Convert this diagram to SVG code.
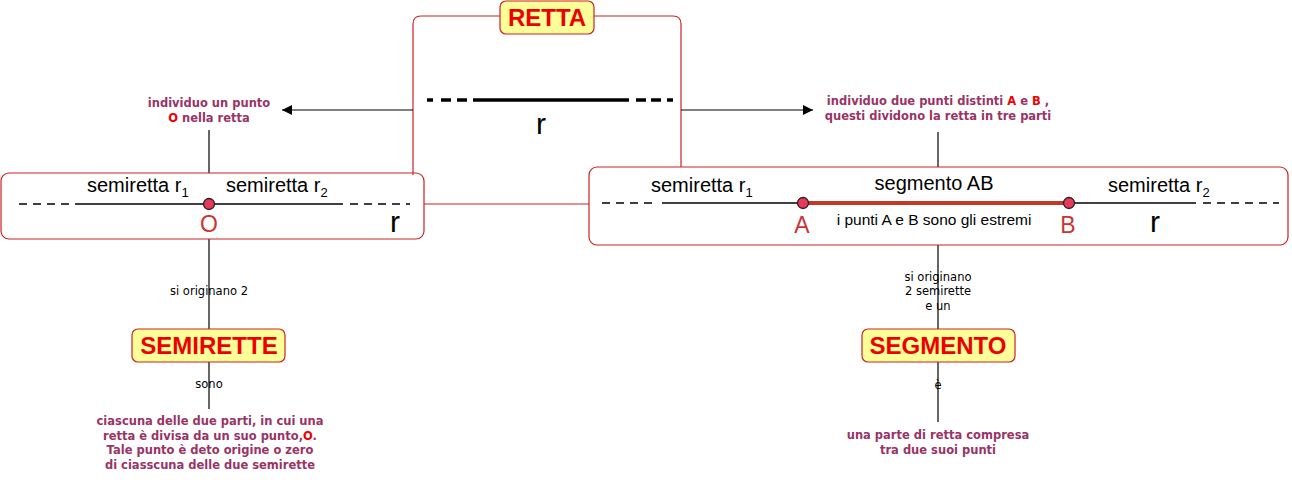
<svg xmlns="http://www.w3.org/2000/svg" width="1292" height="480" viewBox="0 0 1292 480">
<style>
.frame{fill:none;stroke:#cc2222;stroke-width:1.2}
.con{fill:none;stroke:#000;stroke-width:1.2}
.key{fill:#ffff99;stroke:#cc2222;stroke-width:1.2}
.keyt{font-family:"Liberation Sans",Arial,sans-serif;font-weight:bold;font-size:24px;fill:#ee0000;text-anchor:middle}
.desc{font-family:"DejaVu Sans",Verdana,sans-serif;font-weight:bold;font-size:11.5px;fill:#993366;text-anchor:middle}
.red{fill:#ee0000}
.lab{font-family:"DejaVu Sans",Verdana,sans-serif;font-size:11.5px;fill:#000;text-anchor:middle}
.sr{font-family:"Liberation Sans",Arial,sans-serif;font-size:20px;fill:#000}
.sub{font-size:13px}
.pt{font-family:"Liberation Sans",Arial,sans-serif;font-size:23px;fill:#cc3333;text-anchor:middle}
.big{font-family:"Liberation Sans",Arial,sans-serif;font-size:30px;fill:#000;text-anchor:middle}
.dash{stroke:#000;stroke-width:1.6;stroke-dasharray:8 6}
.solid{stroke:#000;stroke-width:1.6}
.dot{fill:#e8395a;stroke:#222;stroke-width:1.3}
</style>
<defs>
<marker id="ah" viewBox="0 0 10 10" refX="10" refY="5" markerWidth="10" markerHeight="10" markerUnits="userSpaceOnUse" orient="auto">
<path d="M0,0 L10,5 L0,10 z" fill="#000"/>
</marker>
</defs>

<g id="connectors">
<path class="frame" d="M413,175 L413,24 Q413,16 421,16 L673,16 Q681,16 681,24 L681,167"/>
<line class="frame" x1="424" y1="204" x2="589" y2="204"/>
<line class="con" x1="413" y1="110" x2="282" y2="110" marker-end="url(#ah)"/>
<line class="con" x1="681" y1="110" x2="813" y2="110" marker-end="url(#ah)"/>
<line class="con" x1="209" y1="130" x2="209" y2="173"/>
<line class="con" x1="938" y1="132" x2="938" y2="167"/>
<line class="con" x1="209" y1="239" x2="209" y2="329"/>
<line class="con" x1="209" y1="362" x2="209" y2="409"/>
<line class="con" x1="938" y1="245" x2="938" y2="329"/>
<line class="con" x1="938" y1="362" x2="938" y2="422"/>
<text class="lab" x="209" y="295">si originano 2</text>
<text class="lab" x="209" y="388">sono</text>
<text class="lab" x="938" y="281">si originano</text>
<text class="lab" x="938" y="295">2 semirette</text>
<text class="lab" x="938" y="310">e un</text>
<text class="lab" x="938" y="389">è</text>
</g>

<g id="retta">
<line x1="427" y1="100" x2="472" y2="100" stroke="#000" stroke-width="3.5" stroke-dasharray="6 8 10 6 10 6"/>
<line x1="473" y1="100" x2="629" y2="100" stroke="#000" stroke-width="3.5"/>
<line x1="636" y1="100" x2="673" y2="100" stroke="#000" stroke-width="3.5" stroke-dasharray="10 5 10 6 6 6"/>
<text class="big" x="541" y="134">r</text>
<rect class="key" x="500" y="1" width="94" height="33" rx="6"/>
<text class="keyt" x="547" y="26">RETTA</text>
</g>

<g id="desc-left">
<text class="desc" x="209" y="107">individuo un punto</text>
<text class="desc" x="209" y="122"><tspan class="red">O</tspan> nella retta</text>
</g>

<g id="desc-right">
<text class="desc" x="938" y="105">individuo due punti distinti <tspan class="red">A</tspan> e <tspan class="red">B</tspan> ,</text>
<text class="desc" x="938" y="120">questi dividono la retta in tre parti</text>
</g>

<g id="box-left">
<rect class="frame" x="1" y="173" width="423" height="66" rx="8"/>
<line class="dash" x1="19" y1="204" x2="73" y2="204"/>
<line class="solid" x1="75" y1="204" x2="343" y2="204"/>
<line class="dash" x1="350" y1="204" x2="410" y2="204"/>
<text class="sr" x="87" y="192">semiretta r<tspan class="sub" dy="5">1</tspan></text>
<text class="sr" x="226" y="192">semiretta r<tspan class="sub" dy="5">2</tspan></text>
<circle class="dot" cx="209" cy="204" r="5.5"/>
<text class="pt" x="209" y="232">O</text>
<text class="big" x="395" y="232">r</text>
</g>

<g id="box-right">
<rect class="frame" x="589" y="167" width="699" height="78" rx="8"/>
<line class="dash" x1="602" y1="203" x2="658" y2="203"/>
<line class="solid" x1="662" y1="203" x2="1196" y2="203"/>
<line class="dash" x1="1203" y1="203" x2="1279" y2="203"/>
<line x1="803" y1="203" x2="1069" y2="203" stroke="#c0392b" stroke-width="4"/>
<circle class="dot" cx="803" cy="203" r="5.5"/>
<circle class="dot" cx="1069" cy="203" r="5.5"/>
<text class="sr" x="651" y="192">semiretta r<tspan class="sub" dy="5">1</tspan></text>
<text class="sr" x="934" y="190" text-anchor="middle">segmento AB</text>
<text class="sr" x="1108" y="192">semiretta r<tspan class="sub" dy="5">2</tspan></text>
<text class="pt" x="802" y="233">A</text>
<text class="pt" x="1068" y="233">B</text>
<text class="sr" x="934" y="225" text-anchor="middle" style="font-size:15.5px">i punti A e B sono gli estremi</text>
<text class="big" x="1155" y="232">r</text>
</g>

<g id="semirette">
<rect class="key" x="132" y="329" width="153" height="33" rx="6"/>
<text class="keyt" x="209" y="354">SEMIRETTE</text>
</g>

<g id="segmento">
<rect class="key" x="862" y="329" width="153" height="33" rx="6"/>
<text class="keyt" x="938" y="354">SEGMENTO</text>
</g>

<g id="desc-semirette">
<text class="desc" x="210" y="425">ciascuna delle due parti, in cui una</text>
<text class="desc" x="210" y="439.5">retta è divisa da un suo punto,<tspan class="red">O</tspan>.</text>
<text class="desc" x="210" y="454">Tale punto è deto origine o zero</text>
<text class="desc" x="210" y="468.5">di ciasscuna delle due semirette</text>
</g>

<g id="desc-segmento">
<text class="desc" x="938" y="439">una parte di retta compresa</text>
<text class="desc" x="938" y="454">tra due suoi punti</text>
</g>
</svg>
